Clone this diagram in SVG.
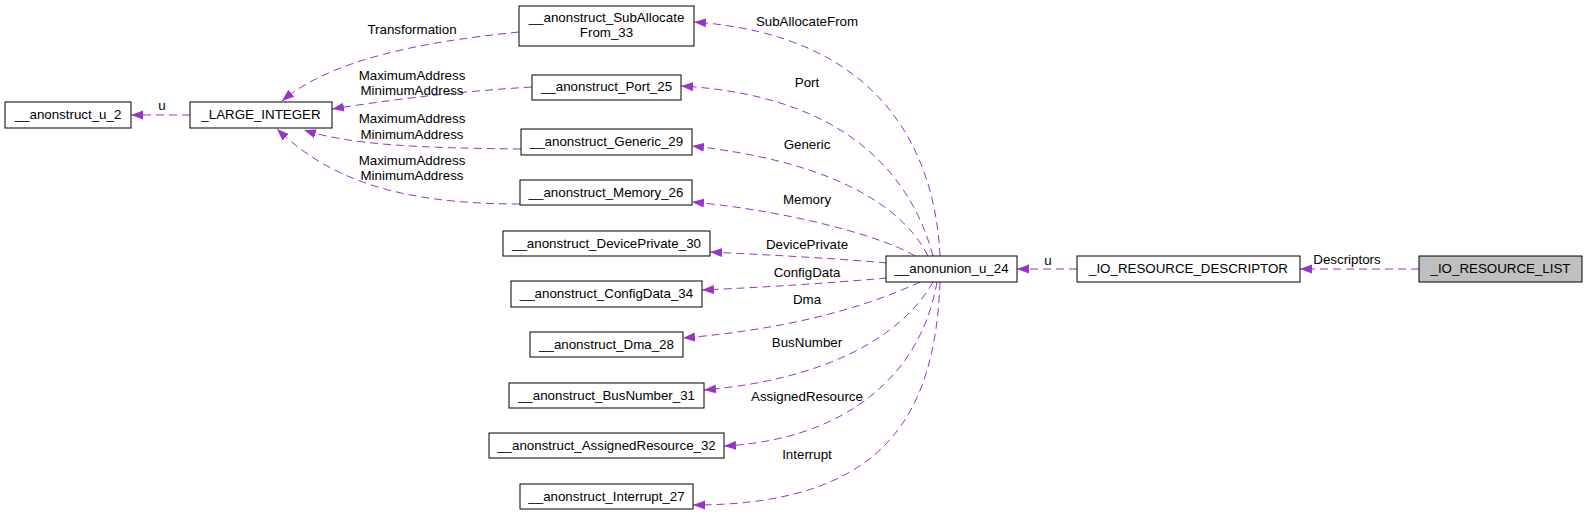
<svg xmlns="http://www.w3.org/2000/svg" width="1588" height="515" viewBox="0 0 1588 515">
<style>
.node rect{fill:#ffffff;stroke:#000000;stroke-width:1}
.node.hl rect{fill:#bfbfbf}
text{font-family:"Liberation Sans",Arial,sans-serif;font-size:13.33px;fill:#000000;text-anchor:middle}
.edges path{fill:none;stroke:#9a32cd;stroke-width:1;stroke-dasharray:8,5;marker-end:url(#arr)}
</style>
<defs>
<marker id="arr" markerUnits="userSpaceOnUse" markerWidth="13" markerHeight="10" refX="12" refY="5" orient="auto">
<path d="M0,0.5 L12,5 L0,9.5 z" fill="#9a32cd" stroke="none"/>
</marker>
</defs>
<rect width="1588" height="515" fill="#ffffff"/>
<g id="connectors" class="edges">
<path d="M1419,269 L1300,269"/>
<path d="M1077,269 L1017,269"/>
<path d="M940,256 C935,150 880,35 694,22"/>
<path d="M933,256 C910,170 840,95 681,86"/>
<path d="M928,256 C900,200 820,160 692,146"/>
<path d="M915,256 C890,240 800,212 692,202"/>
<path d="M887,263 C830,258 770,255 710,252"/>
<path d="M887,278 C830,283 770,287 702,290"/>
<path d="M920,282 C860,310 780,330 683,338"/>
<path d="M933,282 C900,340 820,380 704,390"/>
<path d="M937,282 C920,380 840,440 724,446"/>
<path d="M940,282 C935,420 880,505 693,505"/>
<path d="M519,32 C420,42 330,60 282,101"/>
<path d="M532,87 C450,92 390,100 332,109"/>
<path d="M521,149 C420,148 350,145 304,130"/>
<path d="M520,204 C400,204 330,180 277,129"/>
<path d="M190,115 L131,115"/>
</g>
<g id="edge-labels">
<text x="1347" y="264">Descriptors</text>
<text x="1048" y="265">u</text>
<text x="807" y="26">SubAllocateFrom</text>
<text x="807" y="87">Port</text>
<text x="807" y="149">Generic</text>
<text x="807" y="204">Memory</text>
<text x="807" y="249">DevicePrivate</text>
<text x="807" y="277">ConfigData</text>
<text x="807" y="304">Dma</text>
<text x="807" y="347">BusNumber</text>
<text x="807" y="401">AssignedResource</text>
<text x="807" y="459">Interrupt</text>
<text x="412" y="34">Transformation</text>
<text x="412" y="80">MaximumAddress</text>
<text x="412" y="95">MinimumAddress</text>
<text x="412" y="123">MaximumAddress</text>
<text x="412" y="139">MinimumAddress</text>
<text x="412" y="165">MaximumAddress</text>
<text x="412" y="180">MinimumAddress</text>
<text x="162" y="110">u</text>
</g>
<g id="node_io_resource_list" class="node hl"><rect x="1419" y="256" width="163" height="26"/><text x="1500.5" y="273">_IO_RESOURCE_LIST</text></g>
<g id="node_io_resource_descriptor" class="node"><rect x="1077" y="256" width="223" height="26"/><text x="1188.5" y="273">_IO_RESOURCE_DESCRIPTOR</text></g>
<g id="node_anonunion_u_24" class="node"><rect x="886" y="256" width="131" height="26"/><text x="951.5" y="273">__anonunion_u_24</text></g>
<g id="node_suballocate_33" class="node"><rect x="519" y="6" width="175" height="40"/><text x="606.5" y="22">__anonstruct_SubAllocate</text><text x="606.5" y="37">From_33</text></g>
<g id="node_port_25" class="node"><rect x="532" y="75" width="149" height="25"/><text x="606.5" y="91">__anonstruct_Port_25</text></g>
<g id="node_generic_29" class="node"><rect x="521" y="129" width="171" height="26"/><text x="606.5" y="146">__anonstruct_Generic_29</text></g>
<g id="node_memory_26" class="node"><rect x="520" y="180" width="172" height="25"/><text x="606" y="197">__anonstruct_Memory_26</text></g>
<g id="node_deviceprivate_30" class="node"><rect x="503" y="231" width="207" height="25"/><text x="606.5" y="248">__anonstruct_DevicePrivate_30</text></g>
<g id="node_configdata_34" class="node"><rect x="511" y="281" width="191" height="26"/><text x="606.5" y="298">__anonstruct_ConfigData_34</text></g>
<g id="node_dma_28" class="node"><rect x="530" y="332" width="153" height="25"/><text x="606.5" y="349">__anonstruct_Dma_28</text></g>
<g id="node_busnumber_31" class="node"><rect x="509" y="383" width="195" height="25"/><text x="606.5" y="400">__anonstruct_BusNumber_31</text></g>
<g id="node_assignedresource_32" class="node"><rect x="489" y="433" width="235" height="25"/><text x="606.5" y="450">__anonstruct_AssignedResource_32</text></g>
<g id="node_interrupt_27" class="node"><rect x="520" y="484" width="173" height="25"/><text x="606.5" y="501">__anonstruct_Interrupt_27</text></g>
<g id="node_large_integer" class="node"><rect x="190" y="102" width="142" height="26"/><text x="261" y="119">_LARGE_INTEGER</text></g>
<g id="node_anonstruct_u_2" class="node"><rect x="5" y="102" width="126" height="26"/><text x="68" y="119">__anonstruct_u_2</text></g>
</svg>
